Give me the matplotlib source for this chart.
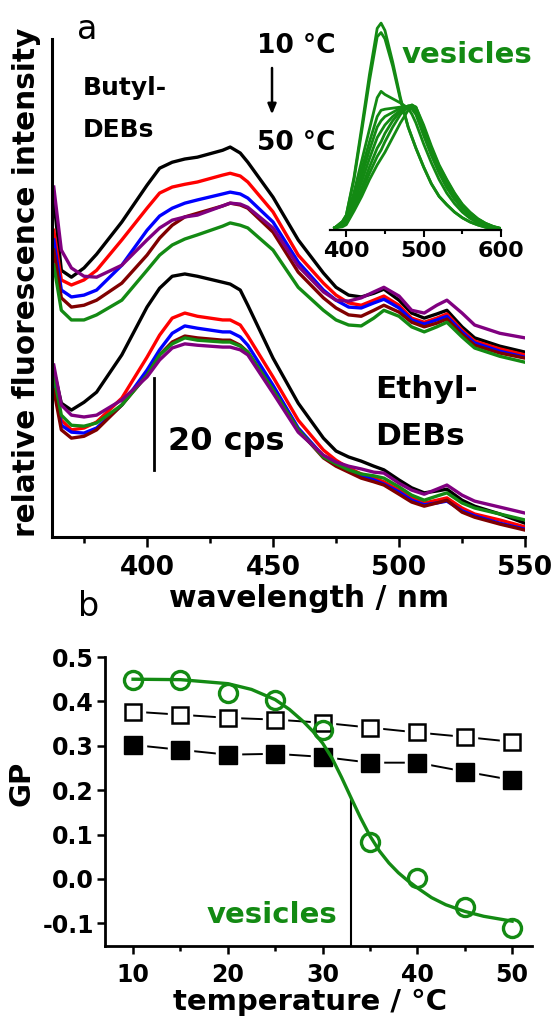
import matplotlib
matplotlib.use('Agg')
import matplotlib.pyplot as plt
from matplotlib.ticker import MultipleLocator, FormatStrFormatter

plt.rcParams['font.family'] = ['DejaVu Sans']
plt.rcParams['font.weight'] = 'bold'
plt.rcParams['axes.unicode_minus'] = False

# ---- panel a: emission spectra (cps, stacked) ----
wl = [363, 366, 370, 375, 380, 390, 400, 405, 410, 415, 420, 430, 433, 437, 440,
      450, 460, 470, 475, 480, 485, 490, 494, 500, 505, 510, 515, 519, 525, 530, 540, 550]

butyl_black = [73.3, 58.0, 56.5, 58.5, 61.5, 68.5, 76.5, 80.2, 81.5, 82.2, 82.6, 84.1, 84.8, 83.5, 81.5,
               73.9, 64.6, 57.4, 54.3, 52.6, 52.2, 53.0, 53.9, 51.5, 48.7, 47.6, 48.5, 49.3, 45.7, 43.3, 41.5, 40.2]
butyl_red = [66.7, 55.9, 54.8, 55.9, 58.0, 64.6, 71.5, 74.8, 76.1, 76.7, 77.2, 78.7, 79.1, 78.5, 77.2,
             70.7, 61.3, 55.2, 52.6, 50.9, 50.4, 51.5, 52.4, 50.4, 47.6, 46.7, 47.6, 48.5, 45.0, 42.6, 40.9, 39.6]
butyl_blue = [64.6, 53.7, 52.2, 52.6, 53.7, 59.1, 66.7, 69.8, 71.5, 72.6, 73.3, 74.6, 75.0, 74.6, 73.7,
              68.5, 59.8, 53.7, 51.5, 50.0, 49.8, 50.9, 51.7, 49.8, 47.2, 46.3, 47.2, 48.0, 44.6, 42.2, 40.4, 39.1]
butyl_purple = [76.1, 62.4, 58.5, 56.7, 56.5, 59.1, 64.6, 67.2, 68.9, 69.6, 70.0, 72.0, 72.6, 72.4, 71.7,
                67.2, 58.9, 53.3, 51.5, 51.3, 52.0, 53.3, 54.3, 52.4, 49.3, 48.7, 50.4, 51.5, 48.7, 46.1, 44.3, 43.3]
butyl_brown = [62.4, 52.0, 50.0, 50.4, 51.5, 55.2, 61.3, 65.0, 67.8, 69.6, 70.4, 72.0, 72.6, 72.2, 71.5,
               66.3, 57.6, 52.0, 49.8, 48.3, 48.0, 49.3, 50.4, 48.9, 46.7, 45.7, 46.5, 47.4, 44.1, 41.7, 40.0, 38.9]
butyl_green = [59.1, 49.3, 47.2, 47.2, 48.3, 51.5, 58.0, 61.3, 63.5, 64.8, 65.7, 67.6, 68.3, 67.8, 67.2,
               62.4, 54.3, 49.3, 47.2, 46.1, 45.9, 47.6, 49.3, 48.0, 45.7, 44.6, 45.7, 46.7, 43.5, 41.1, 39.3, 38.0]

ethyl_black = [36.3, 29.1, 27.6, 29.3, 31.5, 39.6, 50.0, 54.1, 56.7, 57.2, 56.7, 55.4, 55.0, 53.7, 50.4,
               38.9, 29.1, 21.5, 18.7, 17.4, 16.5, 15.4, 14.6, 12.4, 10.7, 9.6, 10.0, 10.4, 8.0, 6.7, 5.0, 3.0]
ethyl_red = [34.1, 25.4, 23.3, 23.7, 25.0, 30.2, 39.1, 43.9, 47.6, 48.7, 48.0, 47.2, 47.2, 46.1, 43.7,
             34.8, 25.4, 18.9, 16.7, 15.0, 13.7, 12.8, 12.0, 10.2, 8.5, 7.4, 8.0, 8.5, 6.3, 5.0, 3.7, 2.2]
ethyl_blue = [33.0, 24.3, 22.8, 22.6, 23.7, 28.7, 36.3, 40.7, 44.3, 45.9, 45.4, 44.6, 44.6, 43.5, 41.7,
              33.0, 23.7, 17.6, 15.9, 14.6, 13.3, 12.4, 11.5, 9.8, 8.0, 7.0, 7.4, 7.8, 5.7, 4.6, 3.0, 1.7]
ethyl_brown = [32.0, 23.3, 21.5, 21.9, 23.3, 28.7, 35.2, 39.6, 42.4, 43.7, 43.3, 42.8, 42.8, 41.7, 40.2,
               32.0, 23.3, 17.2, 15.4, 14.1, 12.8, 12.0, 11.3, 9.3, 7.6, 6.7, 7.4, 8.0, 5.4, 4.3, 2.8, 1.5]
ethyl_green = [35.2, 26.5, 24.3, 24.1, 24.8, 28.7, 35.2, 39.6, 42.0, 43.3, 42.8, 42.4, 42.4, 41.5, 40.2,
               32.0, 23.3, 17.4, 15.9, 14.6, 13.7, 13.3, 12.8, 10.9, 9.1, 8.0, 8.9, 9.6, 7.4, 6.3, 5.0, 3.7]
ethyl_purple = [37.4, 28.7, 26.5, 26.1, 26.5, 29.8, 34.8, 38.5, 41.1, 42.0, 41.7, 41.3, 41.3, 40.7, 39.6,
                31.3, 22.8, 17.8, 16.3, 15.4, 14.8, 14.1, 13.9, 11.7, 10.2, 9.3, 10.4, 11.3, 9.1, 7.8, 6.5, 5.2]

# inset: normalised vesicle spectra, 10 -> 50 degC
wl_ves = [385, 395, 400, 410, 420, 430, 440, 445, 450, 460, 470, 480, 485, 490, 500,
          510, 520, 530, 540, 550, 560, 570, 580, 590, 600]
ves_spectra = [
    [0.01, 0.04, 0.07, 0.25, 0.49, 0.74, 0.96, 0.985, 0.95, 0.80, 0.63, 0.49, 0.44, 0.39, 0.30,
     0.22, 0.16, 0.12, 0.085, 0.058, 0.038, 0.024, 0.013, 0.006, 0.002],
    [0.01, 0.04, 0.07, 0.24, 0.47, 0.71, 0.92, 0.94, 0.91, 0.78, 0.62, 0.49, 0.44, 0.39, 0.30,
     0.22, 0.16, 0.12, 0.085, 0.058, 0.038, 0.024, 0.013, 0.006, 0.002],
    [0.01, 0.03, 0.05, 0.18, 0.33, 0.48, 0.63, 0.66, 0.645, 0.625, 0.605, 0.58, 0.55, 0.51, 0.41,
     0.32, 0.24, 0.175, 0.125, 0.085, 0.055, 0.034, 0.019, 0.009, 0.003],
    [0.01, 0.03, 0.05, 0.16, 0.29, 0.42, 0.54, 0.57, 0.575, 0.58, 0.585, 0.585, 0.575, 0.55, 0.45,
     0.355, 0.27, 0.20, 0.145, 0.10, 0.066, 0.04, 0.023, 0.011, 0.004],
    [0.01, 0.03, 0.045, 0.14, 0.26, 0.38, 0.49, 0.52, 0.54, 0.56, 0.58, 0.59, 0.585, 0.565, 0.465,
     0.37, 0.285, 0.215, 0.155, 0.108, 0.072, 0.045, 0.026, 0.013, 0.005],
    [0.01, 0.025, 0.04, 0.13, 0.23, 0.34, 0.44, 0.47, 0.50, 0.54, 0.57, 0.59, 0.59, 0.575, 0.475,
     0.38, 0.295, 0.225, 0.163, 0.114, 0.077, 0.048, 0.028, 0.014, 0.006],
    [0.01, 0.02, 0.035, 0.11, 0.20, 0.30, 0.39, 0.42, 0.46, 0.52, 0.565, 0.59, 0.595, 0.58, 0.48,
     0.385, 0.30, 0.23, 0.168, 0.118, 0.08, 0.05, 0.03, 0.015, 0.006],
    [0.01, 0.02, 0.03, 0.10, 0.18, 0.27, 0.35, 0.38, 0.42, 0.49, 0.55, 0.585, 0.595, 0.585, 0.49,
     0.39, 0.305, 0.235, 0.172, 0.12, 0.082, 0.052, 0.031, 0.016, 0.007],
    [0.01, 0.015, 0.025, 0.09, 0.16, 0.24, 0.31, 0.34, 0.37, 0.44, 0.51, 0.57, 0.59, 0.585, 0.50,
     0.40, 0.31, 0.24, 0.176, 0.123, 0.085, 0.054, 0.032, 0.017, 0.007],
]

# ---- panel b: GP vs temperature ----
temp = [10, 15, 20, 25, 30, 35, 40, 45, 50]
gp_vesicles = [0.449, 0.449, 0.42, 0.404, 0.336, 0.084, 0.002, -0.063, -0.111]
gp_open = [0.377, 0.37, 0.363, 0.359, 0.352, 0.341, 0.33, 0.32, 0.309]
gp_filled = [0.302, 0.291, 0.28, 0.282, 0.275, 0.262, 0.262, 0.242, 0.223]
# sigmoidal fit line
fit_t = [10, 15, 20, 22.5, 25, 26.5, 28, 29, 30, 31, 32, 33, 34, 35, 36, 37,
         38, 39, 40, 41.5, 43, 45, 47, 50]
fit_gp = [0.45, 0.449, 0.44, 0.427, 0.404, 0.382, 0.354, 0.332, 0.306, 0.272, 0.229, 0.183,
          0.138, 0.097, 0.063, 0.036, 0.014, -0.004, -0.02, -0.042, -0.058, -0.073, -0.084, -0.095]
t_m = 33.0
gp_m = 0.183

GREEN = '#138a13'
PURPLE = '#800080'
BROWN = '#800000'

fig = plt.figure(figsize=(5.55, 10.18), dpi=100)

# main spectra axes
ax1 = fig.add_axes([0.0937, 0.4725, 0.8523, 0.4892])
order = [('k', butyl_black, ethyl_black), ('#ff0000', butyl_red, ethyl_red),
         ('#0000ff', butyl_blue, ethyl_blue), (BROWN, butyl_brown, ethyl_brown),
         (GREEN, butyl_green, ethyl_green), (PURPLE, butyl_purple, ethyl_purple)]
for c, b, e in order:
    ax1.plot(wl, b, color=c, lw=2.4, solid_joinstyle='round')
    ax1.plot(wl, e, color=c, lw=2.4, solid_joinstyle='round')
ax1.set_xlim(362.3, 550)
ax1.set_ylim(0, 108.3)
for s in ['top', 'right']:
    ax1.spines[s].set_visible(False)
for s in ['left', 'bottom']:
    ax1.spines[s].set_linewidth(2.2)
ax1.set_yticks([])
ax1.xaxis.set_major_locator(MultipleLocator(50))
ax1.xaxis.set_minor_locator(MultipleLocator(25))
ax1.tick_params(axis='x', which='major', direction='out', length=7, width=1.8, labelsize=19, pad=6)
ax1.tick_params(axis='x', which='minor', direction='out', length=4, width=1.8)

# annotations in panel a
ax1.text(374.6, 96.1, 'Butyl-', fontsize=18, va='baseline')
ax1.text(374.6, 87.0, 'DEBs', fontsize=18, va='baseline')
ax1.text(443.7, 105.2, '10 °C', fontsize=19, va='baseline')
ax1.text(443.7, 84.1, '50 °C', fontsize=19, va='baseline')
ax1.annotate('', xy=(449.6, 91.3), xytext=(449.6, 102.6),
             arrowprops=dict(arrowstyle='-|>,head_width=0.25,head_length=0.6', color='k', lw=1.8))
ax1.text(490.5, 30.2, 'Ethyl-', fontsize=22.5, va='baseline')
ax1.text(490.5, 20.0, 'DEBs', fontsize=22.5, va='baseline')
ax1.plot([402.8, 402.8], [14.6, 34.6], color='k', lw=2.0)
ax1.text(408.3, 18.9, '20 cps', fontsize=23, va='baseline')

fig.text(0.0486, 0.723, 'relative fluorescence intensity', rotation=90,
         ha='center', va='center', fontsize=21.3)
fig.text(0.5568, 0.4037, 'wavelength / nm', ha='center', va='baseline', fontsize=21.5)
fig.text(0.139, 1 - 39 / 1018, 'a', fontsize=24, fontweight='normal', va='baseline')
fig.text(0.140, 1 - 616 / 1018, 'b', fontsize=24, fontweight='normal', va='baseline')

# inset
axi = fig.add_axes([0.5946, 0.7741, 0.3081, 0.2063])
axi.patch.set_alpha(0)
for spec in ves_spectra:
    axi.plot(wl_ves, spec, color=GREEN, lw=2.0)
axi.set_xlim(379, 600)
axi.set_ylim(0, 1.0)
for s in ['top', 'right', 'left']:
    axi.spines[s].set_visible(False)
axi.spines['bottom'].set_linewidth(1.6)
axi.set_yticks([])
axi.set_xticks([400, 500, 600])
axi.xaxis.set_minor_locator(MultipleLocator(50))
axi.tick_params(axis='x', which='major', direction='out', length=5, width=1.5, labelsize=16, pad=3)
axi.tick_params(axis='x', which='minor', direction='out', length=3, width=1.5)
axi.text(472, 0.795, 'vesicles', color=GREEN, fontsize=21, va='baseline')

# panel b
ax2 = fig.add_axes([0.1892, 0.0707, 0.7694, 0.2839])
ax2.plot(temp, gp_open, '-', color='k', lw=1.4, zorder=2)
ax2.plot(temp, gp_open, 's', ms=17, mfc='white', mec='white', zorder=3)
ax2.plot(temp, gp_open, 's', ms=11.5, mfc='white', mec='k', mew=1.8, zorder=4)
ax2.plot(temp, gp_filled, '-', color='k', lw=1.4, zorder=2)
ax2.plot(temp, gp_filled, 's', ms=18, mfc='white', mec='white', zorder=3)
ax2.plot(temp, gp_filled, 's', ms=12.5, mfc='k', mec='k', zorder=4)
ax2.plot([t_m, t_m], [-0.151, gp_m], color='k', lw=1.5, zorder=5)
ax2.plot(fit_t, fit_gp, color=GREEN, lw=2.4, zorder=6, solid_joinstyle='round')
ax2.plot(temp, gp_vesicles, 'o', ms=13, mfc='none', mec=GREEN, mew=2.4, zorder=7)
ax2.set_xlim(7.04, 52.1)
ax2.set_ylim(-0.151, 0.5)
for s in ['top', 'right']:
    ax2.spines[s].set_visible(False)
for s in ['left', 'bottom']:
    ax2.spines[s].set_linewidth(2.0)
ax2.set_xticks([10, 20, 30, 40, 50])
ax2.xaxis.set_minor_locator(MultipleLocator(5))
ax2.set_yticks([-0.1, 0.0, 0.1, 0.2, 0.3, 0.4, 0.5])
ax2.yaxis.set_major_formatter(FormatStrFormatter('%.1f'))
ax2.tick_params(which='major', direction='out', length=6, width=1.8, labelsize=17)
ax2.tick_params(axis='y', pad=2)
ax2.tick_params(axis='x', pad=6)
ax2.tick_params(which='minor', direction='out', length=3.5, width=1.8)
ax2.text(17.8, -0.099, 'vesicles', color=GREEN, fontsize=21, va='baseline')

fig.text(0.558, 1 - 1010 / 1018, 'temperature / °C', ha='center', va='baseline', fontsize=21)
fig.text(0.0396, 1 - 783 / 1018, 'GP', rotation=90, ha='center', va='center', fontsize=21)

fig.savefig('out.png', dpi=100)
